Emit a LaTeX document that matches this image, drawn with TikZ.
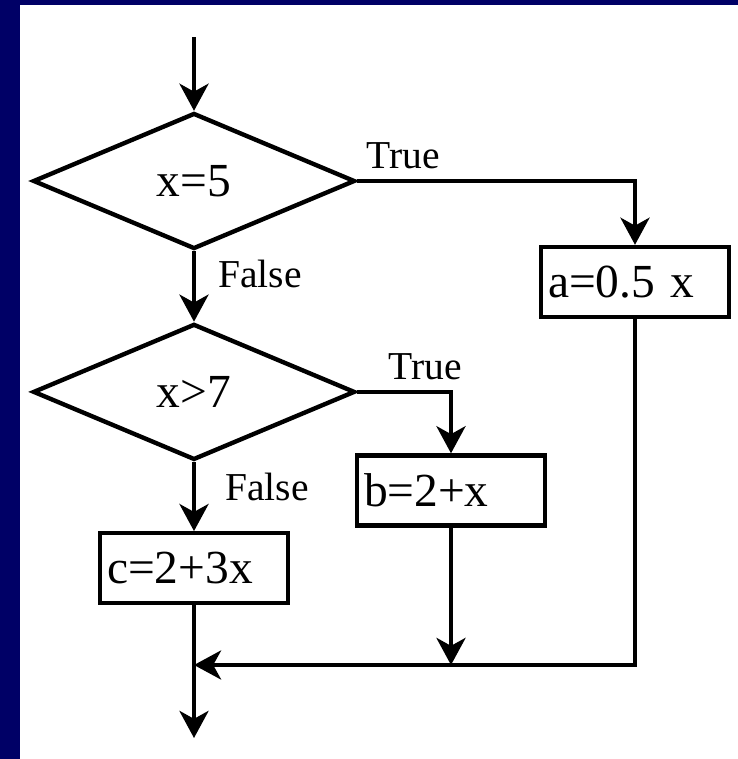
\documentclass[tikz,border=0pt]{standalone}
\usepackage{fontspec}
\setmainfont{Liberation Serif}
\usetikzlibrary{positioning,arrows.meta,shapes.geometric}
\definecolor{navy}{RGB}{0,0,102}

\begin{document}
\begin{tikzpicture}[
  line width=2.5pt,
  arr/.style={-{Stealth[length=15.4pt, width=16.5pt, inset=4.5pt]}},
  test/.style={diamond, draw, minimum width=6.44cm, minimum height=2.72cm, inner sep=0pt, font=\fontsize{27}{30}\selectfont},
  box/.style={draw, text width=3.48cm, align=left, inner xsep=0.14cm, minimum height=1.4cm, font=\fontsize{27}{30}\selectfont},
  lbl/.style={inner sep=0pt, font=\fontsize{22.5}{26}\selectfont}
]
\useasboundingbox (0,0) rectangle (14.76,-15.18);
\fill[navy] (0,0) rectangle (0.4,-15.18);
\fill[navy] (0,0) rectangle (14.76,-0.1);
\coordinate (in) at (3.88,-0.74);
\node[test] (d1) at (3.88,-3.62) {x=5};
\node[test, below=1.41cm of d1] (d2) {x>7};
\node[box, below=1.38cm of d2] (c) {c=2+3x};
\node[box] (b) at (9.02,-9.81) {b=2+x};
\node[box] (a) at (12.7,-5.64) {a=0.5 x};
\node[lbl, anchor=base west, xshift=0.14cm, yshift=0.26cm] (t1) at (d1.east) {True};
\node[lbl, anchor=base west, xshift=0.58cm, yshift=0.24cm] (t2) at (d2.east) {True};
\node[lbl, anchor=base west, xshift=0.44cm, yshift=-0.72cm] (f1) at (d1.south) {False};
\node[lbl, anchor=base west, xshift=0.58cm, yshift=-0.76cm] (f2) at (d2.south) {False};
\coordinate (m) at (c.south |- 0,-13.3);
\coordinate (out) at (c.south |- 0,-14.76);
\draw[arr] (in) -- (d1.north);
\draw[arr] (d1.south) -- (d2.north);
\draw[arr] (d2.south) -- (c.north);
\draw[arr] (d1.east) -| (a.north);
\draw[arr] (d2.east) -| (b.north);
\draw[arr] (b.south) -- (b.south |- m);
\draw[arr] (a.south) |- (m);
\draw[arr] (c.south) -- (out);
\end{tikzpicture}
\end{document}
